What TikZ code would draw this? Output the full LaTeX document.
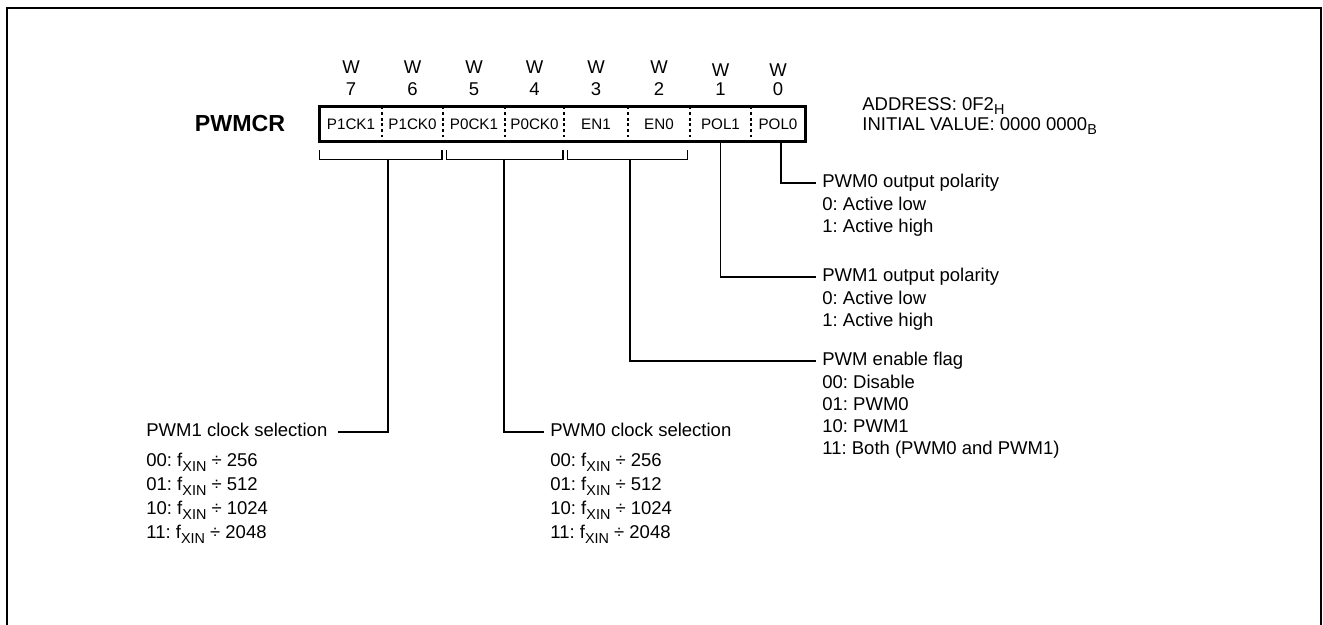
\documentclass[tikz,border=0pt]{standalone}
\usepackage{fontspec}
\setmainfont{Liberation Sans}
\usetikzlibrary{positioning}
\newcommand{\subtxt}[1]{\raisebox{-2.2pt}{\fontsize{7.2}{8}\selectfont #1}}
\frenchspacing

\begin{document}
\begin{tikzpicture}[
    x=0.5pt, y=-0.5pt,
    font=\fontsize{9.25}{11}\selectfont,
    conn/.style={line width=0.55pt},
    cell/.style={minimum height=17pt, inner sep=0pt, font=\fontsize{7.6}{9}\selectfont},
    bitlbl/.style={anchor=base, inner sep=0pt},
    divider/.style={line width=1pt, dash pattern=on 1.4pt off 1.4pt},
    desc/.style={anchor=west, inner xsep=3pt, inner ysep=0pt, text height=0.75em, text depth=0.25em},
    vals/.style={align=left, inner xsep=3pt, inner ysep=0pt},
    clkvals/.style={vals, font=\fontsize{9.25}{12}\selectfont},
  ]
  \useasboundingbox (0,0) rectangle (1323,625);
  \draw[line width=1pt] (6.5,625) -- (6.5,8.5) -- (1321,8.5) -- (1321,625);

  \node[font=\fontsize{11.6}{14}\selectfont\bfseries] (reg) at (240,124) {PWMCR};
  \foreach \i/\x/\w/\wy/\t in {7/351/62/74/P1CK1, 6/412.5/61/74/P1CK0, 5/474/62/74/P0CK1,
      4/534.5/59/74/P0CK0, 3/596/64/74/EN1, 2/659/62/74/EN0, 1/720.5/61/77/POL1, 0/778/54/77/POL0} {
    \node[cell, minimum width=\w*0.5pt] (b\i) at (\x,124) {\t};
    \node[bitlbl] (w\i) at (\x,\wy) {W};
    \node[bitlbl] (n\i) at (\x,96) {\i};
  }
  \foreach \i in {7,...,1}
    \draw[divider] (b\i.north east) -- (b\i.south east);
  \draw[line width=1.6pt] (b7.north west) rectangle (b0.south east);

  \node[anchor=west, align=left, inner xsep=2pt, font=\fontsize{9.25}{10}\selectfont] (addr) at (858,116)
    {ADDRESS: 0F2\subtxt{H}\\INITIAL VALUE: 0000 0000\subtxt{B}};

  \draw[conn] ([yshift=-4.5pt]b7.south west) -- ++(0,-4.5pt) -| ([xshift=-0.7pt, yshift=-4.5pt]b6.south east);
  \draw[conn] ([xshift=2pt, yshift=-4.5pt]b5.south west) -- ++(0,-4.5pt) -| ([xshift=-0.7pt, yshift=-4.5pt]b4.south east);
  \draw[conn] ([xshift=2pt, yshift=-4.5pt]b3.south west) -- ++(0,-4.5pt) -| ([xshift=-1.6pt, yshift=-4.5pt]b2.south east);
  \coordinate (clk1s) at (388,159);
  \coordinate (clk0s) at (504,159);
  \coordinate (ens) at (630,159);

  \node[desc] (pol0t) at (816,183) {PWM0 output polarity};
  \node[vals, below right=1.7pt and 0pt of pol0t.south west] (pol0v) {0: Active low\\1: Active high};
  \node[desc] (pol1t) at (816,277) {PWM1 output polarity};
  \node[vals, below right=1.7pt and 0pt of pol1t.south west] (pol1v) {0: Active low\\1: Active high};
  \node[desc] (ent) at (816,361) {PWM enable flag};
  \node[vals, below right=1.7pt and 0pt of ent.south west] (env) {00: Disable\\01: PWM0\\10: PWM1\\11: Both (PWM0 and PWM1)};
  \node[desc] (clk1t) at (140,432) {PWM1 clock selection};
  \node[clkvals, below right=5.4pt and 0pt of clk1t.south west] (clk1v)
    {00: f\subtxt{XIN} ÷ 256\\01: f\subtxt{XIN} ÷ 512\\10: f\subtxt{XIN} ÷ 1024\\11: f\subtxt{XIN} ÷ 2048};
  \node[desc] (clk0t) at (544,432) {PWM0 clock selection};
  \node[clkvals, below right=5.4pt and 0pt of clk0t.south west] (clk0v)
    {00: f\subtxt{XIN} ÷ 256\\01: f\subtxt{XIN} ÷ 512\\10: f\subtxt{XIN} ÷ 1024\\11: f\subtxt{XIN} ÷ 2048};

  \draw[conn] ([xshift=1.5pt]b0.south) |- (pol0t.west);
  \draw[conn] (b1.south) |- (pol1t.west);
  \draw[conn] (ens) |- (ent.west);
  \draw[conn] (clk1s) |- ([xshift=2pt]clk1t.east);
  \draw[conn] (clk0s) |- (clk0t.west);
\end{tikzpicture}
\end{document}
